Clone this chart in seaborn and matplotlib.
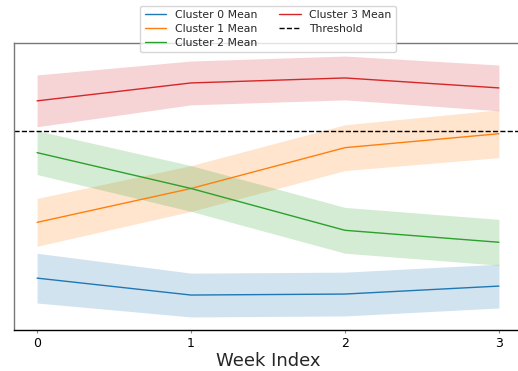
import matplotlib
matplotlib.use("Agg")
import matplotlib.pyplot as plt
import seaborn as sns
import numpy as np

# Weekly cluster means and standard deviations
weeks = [0, 1, 2, 3]
cluster_names = ["Cluster 0", "Cluster 1", "Cluster 2", "Cluster 3"]
c0_mean = [0.52, 0.35, 0.36, 0.44]
c1_mean = [1.08, 1.42, 1.83, 1.97]
c2_mean = [1.78, 1.42, 1.00, 0.88]
c3_mean = [2.30, 2.48, 2.53, 2.43]
c0_std = [0.25, 0.22, 0.22, 0.22]
c1_std = [0.24, 0.23, 0.23, 0.24]
c2_std = [0.22, 0.23, 0.23, 0.23]
c3_std = [0.26, 0.22, 0.22, 0.23]
threshold = 2.00

means = [c0_mean, c1_mean, c2_mean, c3_mean]
stds = [c0_std, c1_std, c2_std, c3_std]
colors = ["#1f77b4", "#ff7f0e", "#2ca02c", "#d62728"]

sns.set_style("white")
plt.rcParams['font.family'] = ['DejaVu Sans']

fig = plt.figure(figsize=(5.18, 3.71), dpi=100)
ax = fig.add_axes([14 / 518, 41 / 371, 508 / 518, 287 / 371])

for name, m, s, c in zip(cluster_names, means, stds, colors):
    m = np.array(m)
    s = np.array(s)
    sns.lineplot(x=weeks, y=m, ax=ax, color=c, linewidth=1.0,
                 label=f"{name} Mean")
    ax.fill_between(weeks, m - s, m + s, color=c, alpha=0.2, linewidth=0)

ax.axhline(threshold, color="black", linestyle="--", linewidth=1.0,
           label="Threshold")

ax.set_xticks(weeks)
ax.set_yticks([])
ax.tick_params(axis="x", labelsize=9, length=2.5, width=0.8, pad=2.5,
               bottom=True, color="#888888", labelcolor="black")
ax.set_xlabel("Week Index", fontsize=13, labelpad=1.5)
ax.set_ylabel("")

for side in ["top", "left", "right"]:
    ax.spines[side].set_color("#777777")
    ax.spines[side].set_linewidth(1.0)
ax.spines["bottom"].set_color("black")
ax.spines["bottom"].set_linewidth(1.0)

ax.legend(loc="upper center", bbox_to_anchor=(0.5, 1.13), ncol=2,
          fontsize=7.8, borderaxespad=0, frameon=True,
          labelspacing=0.35, columnspacing=2.0)

fig.savefig("out.png", dpi=100)
